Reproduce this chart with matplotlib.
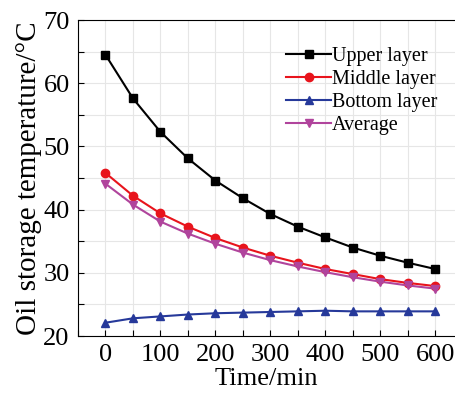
import matplotlib
matplotlib.use("Agg")
from matplotlib import pyplot as plt
from matplotlib.ticker import MultipleLocator

plt.rcParams['font.family'] = ['Liberation Serif', 'DejaVu Serif']

time = [0, 50, 100, 150, 200, 250, 300, 350, 400, 450, 500, 550, 600]
upper = [64.5, 57.6, 52.3, 48.1, 44.6, 41.8, 39.3, 37.3, 35.6, 34.0, 32.7, 31.6, 30.6]
middle = [45.8, 42.2, 39.4, 37.3, 35.5, 34.0, 32.7, 31.6, 30.6, 29.8, 29.0, 28.4, 27.9]
bottom = [22.1, 22.8, 23.1, 23.4, 23.6, 23.7, 23.8, 23.9, 24.0, 23.9, 23.9, 23.9, 23.9]
average = [44.1, 40.8, 38.1, 36.2, 34.6, 33.2, 32.0, 31.0, 30.1, 29.3, 28.6, 28.0, 27.5]

fig = plt.figure(figsize=(4.55, 3.94), dpi=100)
ax = fig.add_axes([0.1714, 0.1472, 0.8286, 0.802])

ax.plot(time, upper, color='black', marker='s', ms=6, lw=1.5, label='Upper layer')
ax.plot(time, middle, color='#e8141c', marker='o', ms=6, lw=1.5, label='Middle layer')
ax.plot(time, bottom, color='#26399a', marker='^', ms=6, lw=1.5, label='Bottom layer')
ax.plot(time, average, color='#b0449c', marker='v', ms=6, lw=1.5, label='Average')

ax.set_xlim(-50, 636)
ax.set_ylim(20, 70)
ax.xaxis.set_major_locator(MultipleLocator(100))
ax.xaxis.set_minor_locator(MultipleLocator(50))
ax.yaxis.set_major_locator(MultipleLocator(10))
ax.yaxis.set_minor_locator(MultipleLocator(5))
ax.grid(which='both', color='#e6e6e6', lw=0.8)
ax.set_axisbelow(True)
ax.tick_params(which='both', direction='in', length=4, width=0.8, labelsize=19, pad=6)
ax.tick_params(top=False, right=False)
ax.spines['right'].set_visible(False)

ax.set_xlabel('Time/min', fontsize=19, labelpad=1)
ax.set_ylabel('Oil storage temperature/°C', fontsize=21, labelpad=1)

ax.legend(loc='upper right', bbox_to_anchor=(0.99, 0.96), frameon=False, fontsize=14.5,
          handlelength=2.2, handletextpad=0.05, labelspacing=0.2, borderaxespad=0.3)

fig.savefig('out.png', dpi=100)
